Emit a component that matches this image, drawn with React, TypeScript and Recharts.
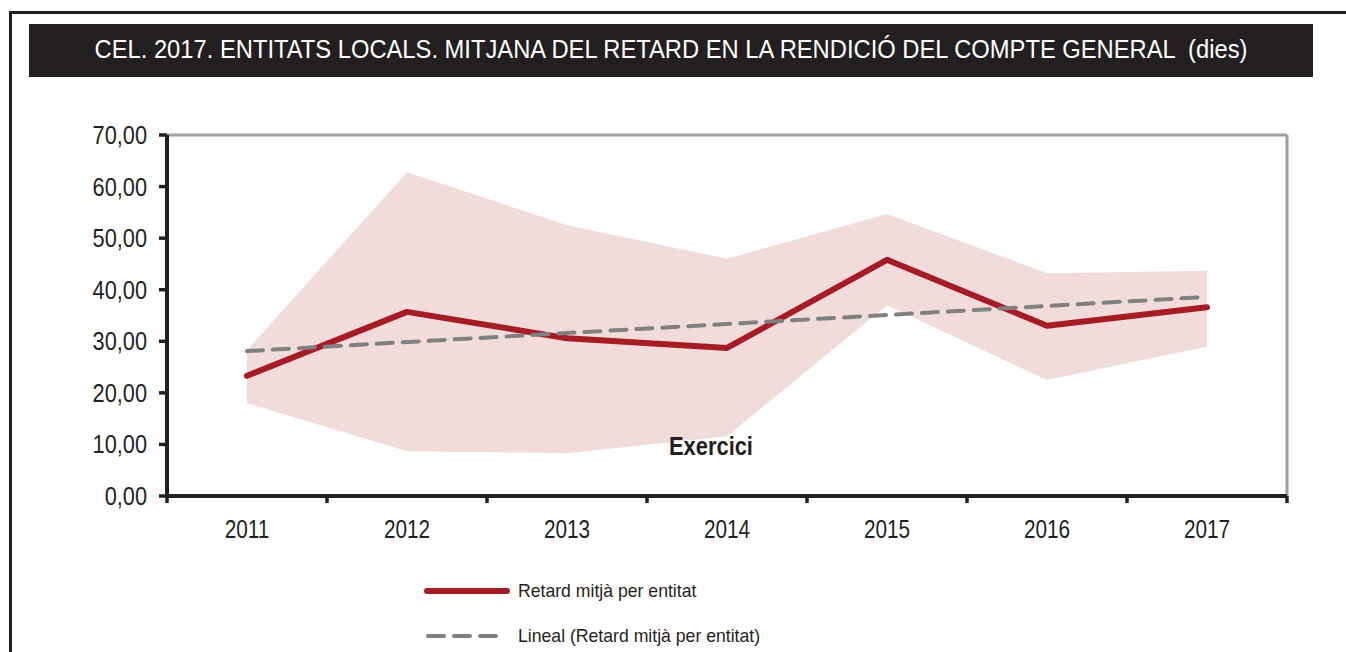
import React from "react";
import {
  ComposedChart,
  Line,
  Area,
  XAxis,
  YAxis,
  ReferenceLine,
} from "recharts";

const TITLE = "CEL. 2017. ENTITATS LOCALS. MITJANA DEL RETARD EN LA RENDICIÓ DEL COMPTE GENERAL  (dies)";
const X_TITLE = "Exercici";
const years = ["2011", "2012", "2013", "2014", "2015", "2016", "2017"];
const retard = [23.3, 35.7, 30.6, 28.7, 45.8, 33.0, 36.6];
const bandLow = [18.0, 8.7, 8.3, 11.6, 37.0, 22.5, 29.0];
const bandHigh = [28.3, 62.8, 52.5, 46.0, 54.7, 43.2, 43.7];
const trend = [28.1, null, null, null, null, null, 38.6];
const yTicks = [0, 10, 20, 30, 40, 50, 60, 70];
const seriesNames = ["Retard mitjà per entitat", "Lineal (Retard mitjà per entitat)"];

const data = years.map((y, i) => ({
  x: i,
  year: y,
  retard: retard[i],
  band: [bandLow[i], bandHigh[i]],
  trend: trend[i],
}));

const labelTicks = years.map((_, i) => i);
const edgeTicks = [...years.map((_, i) => i - 0.5), years.length - 0.5];

const FONT = '"Liberation Sans", Arial, sans-serif';
const DARK = "#231f20";
const RED = "#a51c24";
const GRAY = "#808080";
const PINK = "#f2dcdb";

const YTick = (props: any) => {
  const { x, y, payload } = props;
  return (
    <g transform={`translate(${x},${y})`}>
      <text transform="scale(0.87,1)" textAnchor="end" dy="0.36em" fontSize={25} fill={DARK} fontFamily={FONT}>
        {Number(payload.value).toFixed(2).replace(".", ",")}
      </text>
    </g>
  );
};

const XTick = (props: any) => {
  const { x, y, payload } = props;
  return (
    <g transform={`translate(${x},${y})`}>
      <text transform="scale(0.83,1)" textAnchor="middle" y={0} dy="0.72em" fontSize={25} fill={DARK} fontFamily={FONT}>
        {years[payload.value]}
      </text>
    </g>
  );
};

const EmptyTick = () => <g />;

export default function App() {
  return (
    <div style={{ position: "absolute", left: 0, top: 0, width: 1346, height: 652, background: "#fff", fontFamily: FONT, overflow: "hidden" }}>
      <div style={{ position: "absolute", left: 9, top: 11, width: 1346, height: 660, borderTop: `3px solid ${DARK}`, borderLeft: `3px solid ${DARK}` }} />
      <div
        style={{
          position: "absolute",
          left: 29,
          top: 24,
          width: 1284,
          height: 53,
          background: DARK,
        }}
      >
        <div
          style={{
            position: "absolute",
            left: 0,
            width: 1284,
            top: 0,
            color: "#fff",
            fontSize: 26,
            lineHeight: "51px",
            textAlign: "center",
            whiteSpace: "pre",
            transform: "scaleX(0.913)",
          }}
        >
          {TITLE}
        </div>
      </div>
      <div style={{ position: "absolute", left: 0, top: 0 }}>
        <ComposedChart
          width={1346}
          height={652}
          data={data}
          margin={{ top: 135, right: 59, bottom: 154, left: 87 }}
        >
          <Area
            dataKey="band"
            xAxisId="main"
            fill={PINK}
            fillOpacity={1}
            stroke="none"
            isAnimationActive={false}
            legendType="none"
          />
          <ReferenceLine y={70} xAxisId="main" stroke="#a0a0a0" strokeWidth={3} />
          <ReferenceLine x={years.length - 0.5} xAxisId="main" stroke="#a0a0a0" strokeWidth={3} />
          <XAxis
            xAxisId="main"
            dataKey="x"
            type="number"
            domain={[-0.5, years.length - 0.5]}
            ticks={labelTicks}
            tick={<XTick />}
            tickLine={false}
            axisLine={false}
            tickSize={8}
            tickMargin={15}
            height={1}
            interval={0}
          />
          <XAxis
            xAxisId="edges"
            dataKey="x"
            type="number"
            domain={[-0.5, years.length - 0.5]}
            ticks={edgeTicks}
            tick={<EmptyTick />}
            tickSize={7}
            tickLine={{ stroke: DARK, strokeWidth: 3.5 }}
            axisLine={{ stroke: DARK, strokeWidth: 4 }}
            height={1}
            interval={0}
          />
          <YAxis
            domain={[0, 70]}
            ticks={yTicks}
            tick={<YTick />}
            tickSize={8}
            tickMargin={12}
            tickLine={{ stroke: DARK, strokeWidth: 3.5 }}
            axisLine={{ stroke: DARK, strokeWidth: 4 }}
            width={80}
            interval={0}
          />
          <Line
            dataKey="retard"
            xAxisId="main"
            name={seriesNames[0]}
            stroke={RED}
            strokeWidth={6}
            dot={false}
            activeDot={false}
            strokeLinecap="round"
            strokeLinejoin="round"
            isAnimationActive={false}
          />
          <Line
            dataKey="trend"
            xAxisId="main"
            name={seriesNames[1]}
            stroke={GRAY}
            strokeWidth={4}
            strokeDasharray="16 10"
            strokeLinecap="round"
            connectNulls
            dot={false}
            activeDot={false}
            isAnimationActive={false}
          />
        </ComposedChart>
      </div>
      <div
        style={{
          position: "absolute",
          left: 611,
          width: 200,
          top: 430,
          textAlign: "center",
          fontSize: 25,
          fontWeight: "bold",
          color: DARK,
          lineHeight: "32px",
          transform: "scaleX(0.875)",
        }}
      >
        {X_TITLE}
      </div>
      <svg style={{ position: "absolute", left: 0, top: 0 }} width={1346} height={652}>
        <line x1={427} y1={591} x2={507} y2={591} stroke={RED} strokeWidth={6} strokeLinecap="round" />
        <text x={518} y={591} dy="0.35em" fontSize={18} fill={DARK} fontFamily={FONT} transform="translate(518,0) scale(0.98,1) translate(-518,0)">
          {seriesNames[0]}
        </text>
        <line x1={428} y1={636} x2={500} y2={636} stroke={GRAY} strokeWidth={4} strokeDasharray="16 10" strokeLinecap="round" />
        <text x={518} y={636} dy="0.35em" fontSize={18} fill={DARK} fontFamily={FONT} transform="translate(518,0) scale(0.98,1) translate(-518,0)">
          {seriesNames[1]}
        </text>
      </svg>
    </div>
  );
}
